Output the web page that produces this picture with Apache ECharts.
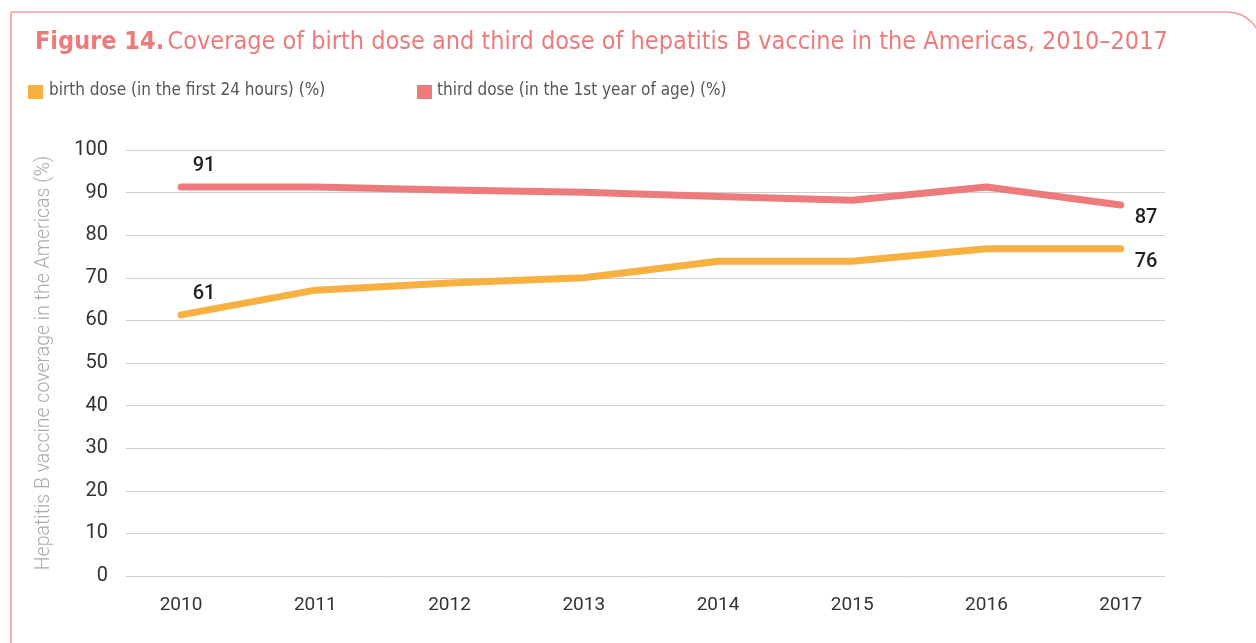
<!DOCTYPE html>
<html><head><meta charset="utf-8">
<script src="https://cdn.jsdelivr.net/npm/echarts@6/dist/echarts.min.js"></script>
<style>html,body{margin:0;padding:0;background:#fff}#c{width:1256px;height:643px}</style>
</head><body><div id="c"></div>
<script>
const years = ['2010','2011','2012','2013','2014','2015','2016','2017'];
const birthDose = [61.3, 67.1, 68.8, 70.0, 73.9, 73.9, 76.8, 76.8];
const thirdDose = [91.3, 91.3, 90.6, 90.1, 89.1, 88.2, 91.3, 87.1];
const birthLabels = {0: '61', 7: '76'};
const thirdLabels = {0: '91', 7: '87'};
const yTicks = [0,10,20,30,40,50,60,70,80,90,100];

const red = '#EE7B7B', orange = '#F8B040';
const condensed = '"Liberation Sans Narrow","DejaVu Sans Condensed","Noto Sans",sans-serif';
const chart = echarts.init(document.getElementById('c'), null, {renderer:'canvas'});
function mkData(vals, labels){
  return vals.map((v,i)=>{
    const d = {value:[+years[i], v]};
    if (labels[i] !== undefined) {
      d.label = i === 0
        ? {show:true, formatter: labels[i], position:'top', offset:[23,-3]}
        : {show:true, formatter: labels[i], position:'right', offset:[6,13]};
    }
    return d;
  });
}
const common = {type:'line', symbol:'circle', symbolSize:6, showSymbol:true,
  label:{show:false, color:'#222', fontSize:20, fontFamily:'Roboto', fontWeight:500}};
chart.setOption({
  animation:false,
  graphic:[
    {type:'rect', shape:{x:11,y:12,width:1251,height:700,r:[0,35,0,0]}, style:{fill:'none',stroke:'#F09A9A',lineWidth:1.5}},
    {type:'text', left:35, top:30, style:{
      text:'{b|Figure 14.} {n|Coverage of birth dose and third dose of hepatitis B vaccine in the Americas, 2010–2017}',
      rich:{b:{fontFamily:condensed,fontWeight:'bold',fontSize:25,fill:red},
            n:{fontFamily:condensed,fontSize:25,fill:red}}
    }},
    {type:'rect', shape:{x:28,y:85,width:15,height:14}, style:{fill:orange}},
    {type:'text', left:49, top:82, style:{text:'birth dose (in the first 24 hours) (%)', fontFamily:condensed, fontSize:17, fill:'#555'}},
    {type:'rect', shape:{x:417,y:85,width:15,height:14}, style:{fill:red}},
    {type:'text', left:437, top:82, style:{text:'third dose (in the 1st year of age) (%)', fontFamily:condensed, fontSize:17, fill:'#555'}}
  ],
  grid:{left:126, right:91, top:150, bottom:67},
  xAxis:{type:'value', min:2009.59, max:2017.33,
    axisLine:{show:false}, axisTick:{show:false}, splitLine:{show:false},
    axisLabel:{customValues: years.map(Number), formatter:v=>String(Math.round(v)), color:'#333', fontSize:19, fontFamily:'Roboto', margin:20}
  },
  yAxis:{type:'value', min:0, max:100, interval:10,
    name:'Hepatitis B vaccine coverage in the Americas (%)', nameLocation:'middle', nameGap:72, nameRotate:90,
    nameTextStyle:{color:'#aaa', fontSize:19.5, fontFamily:'Roboto', fontWeight:300},
    axisLine:{show:false}, axisTick:{show:false},
    axisLabel:{color:'#333', fontSize:20, fontFamily:'Roboto', margin:18, formatter:v=>yTicks.includes(v)?String(v):''},
    splitLine:{lineStyle:{color:'#cfcfcf', width:1}}
  },
  series:[
    Object.assign({}, common, {name:'birth dose', data: mkData(birthDose, birthLabels),
      lineStyle:{color:orange,width:7,cap:'round',join:'round'}, itemStyle:{color:'rgba(0,0,0,0)', borderWidth:0}}),
    Object.assign({}, common, {name:'third dose', data: mkData(thirdDose, thirdLabels),
      lineStyle:{color:red,width:7,cap:'round',join:'round'}, itemStyle:{color:'rgba(0,0,0,0)', borderWidth:0}})
  ]
});
</script></body></html>
